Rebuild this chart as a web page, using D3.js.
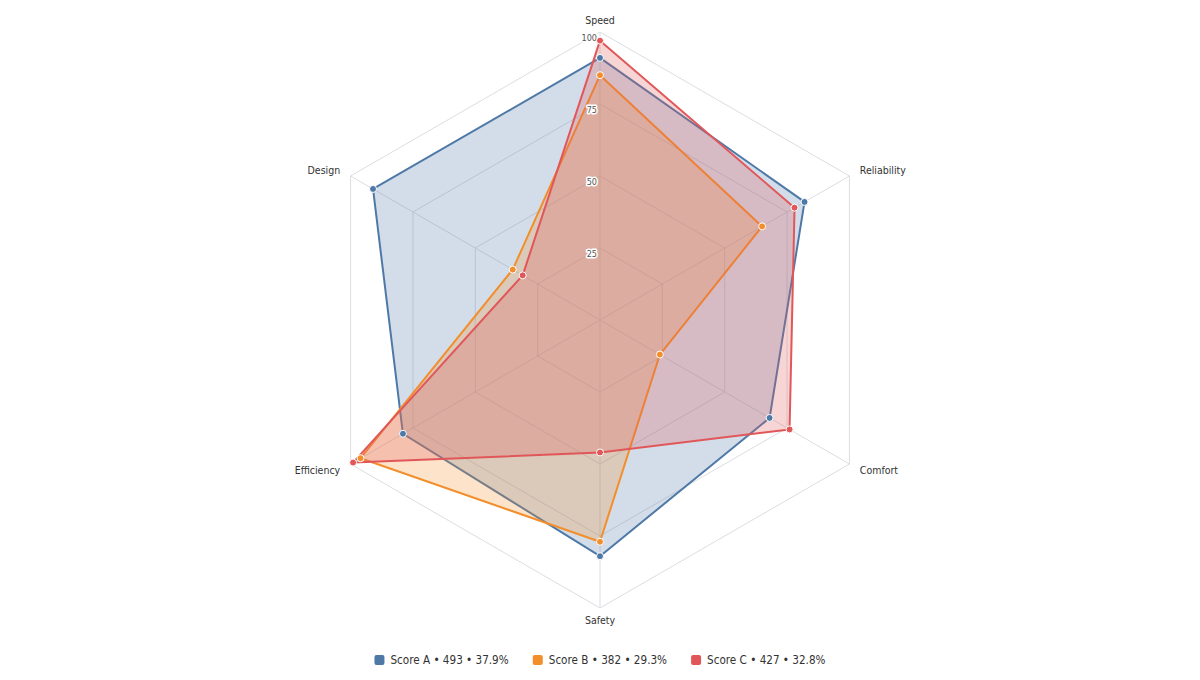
<!DOCTYPE html>
<html>
<head>
<meta charset="utf-8">
<script src="https://cdn.jsdelivr.net/npm/d3@7/dist/d3.min.js"></script>
<style>
  html, body { margin: 0; padding: 0; background: #fff; }
  svg { display: block; font-family: Tahoma, "DejaVu Sans Condensed", "Liberation Sans", sans-serif; }
</style>
</head>
<body>
<svg id="chart" width="1200" height="680"></svg>
<script>
const axes = ["Speed", "Reliability", "Comfort", "Safety", "Efficiency", "Design"];
const seriesNames = ["Score A", "Score B", "Score C"];
const scoreA = [91, 82, 68, 82, 79, 91];
const scoreB = [85, 65, 24, 77, 96, 35];
const scoreC = [97, 78, 76, 46, 99, 31];
const tickValues = [25, 50, 75, 100];
const colors = ["#4e79a7", "#f28e2b", "#e15759"];

const series = [scoreA, scoreB, scoreC].map((v, i) => ({ name: seriesNames[i], values: v, color: colors[i] }));
const grand = d3.sum(series, s => d3.sum(s.values));

const svg = d3.select("#chart");
const cx = 600, cy = 320, R = 288;
const r = d3.scaleLinear().domain([0, 100]).range([0, R]);
const angle = d3.scalePoint().domain(axes).range([0, 2 * Math.PI * (axes.length - 1) / axes.length]);
const pt = (a, v) => [cx + r(v) * Math.sin(angle(a)), cy - r(v) * Math.cos(angle(a))];

const g = svg.append("g");

// grid rings
g.selectAll("path.ring").data(tickValues).join("path")
  .attr("class", "ring")
  .attr("d", t => d3.line()(axes.map(a => pt(a, t))) + "Z")
  .attr("fill", "none").attr("stroke", "#dcdde2").attr("stroke-width", 1);

// spokes
g.selectAll("line.spoke").data(axes).join("line")
  .attr("class", "spoke")
  .attr("x1", cx).attr("y1", cy)
  .attr("x2", a => pt(a, 100)[0]).attr("y2", a => pt(a, 100)[1])
  .attr("stroke", "#dcdde2").attr("stroke-width", 1);

// axis labels
g.selectAll("text.axis").data(axes).join("text")
  .attr("class", "axis")
  .attr("x", a => cx + (R + 12) * Math.sin(angle(a)))
  .attr("y", a => cy - (R + 12) * Math.cos(angle(a)))
  .attr("text-anchor", a => {
    const s = Math.sin(angle(a));
    return Math.abs(s) < 0.01 ? "middle" : (s > 0 ? "start" : "end");
  })
  .attr("dominant-baseline", "central")
  .attr("font-size", 10.5).attr("fill", "#333")
  .text(a => a);

// series areas
const sg = g.selectAll("g.series").data(series).join("g").attr("class", "series");
sg.append("path")
  .attr("d", s => d3.line()(axes.map((a, i) => pt(a, s.values[i]))) + "Z")
  .attr("fill", s => s.color).attr("fill-opacity", 0.25)
  .attr("stroke", s => s.color).attr("stroke-width", 2).attr("stroke-linejoin", "round");

// tick labels (above areas, with halo)
g.selectAll("text.tick").data(tickValues).join("text")
  .attr("class", "tick")
  .attr("x", cx - 3)
  .attr("y", t => cy - r(t) + 6)
  .attr("text-anchor", "end")
  .attr("dominant-baseline", "central")
  .attr("font-size", 9).attr("fill", "#555")
  .attr("stroke", "#fff").attr("stroke-width", 3).attr("paint-order", "stroke").attr("stroke-linejoin", "round")
  .text(t => t);

// points
series.forEach(s => {
  g.append("g").selectAll("circle").data(s.values).join("circle")
    .attr("cx", (v, i) => pt(axes[i], v)[0])
    .attr("cy", (v, i) => pt(axes[i], v)[1])
    .attr("r", 3.5)
    .attr("fill", s.color).attr("stroke", "#fff").attr("stroke-width", 1);
});

// legend
const legend = svg.append("g");
const items = legend.selectAll("g.item").data(series).join("g").attr("class", "item");
items.append("rect").attr("width", 10).attr("height", 10).attr("rx", 2).attr("y", -5)
  .attr("fill", s => s.color);
items.append("text").attr("x", 16).attr("y", 0).attr("dominant-baseline", "central")
  .attr("font-size", 11.6).attr("fill", "#333")
  .text(s => {
    const tot = d3.sum(s.values);
    return `${s.name} • ${tot} • ${(tot / grand * 100).toFixed(1)}%`;
  });
let xoff = 0;
const widths = [];
items.each(function () { widths.push(this.getBBox().width); });
const gap = 24;
const total = d3.sum(widths) + gap * (widths.length - 1);
items.attr("transform", (d, i) => {
  const x = xoff; xoff += widths[i] + gap;
  return `translate(${x},0)`;
});
legend.attr("transform", `translate(${600 - total / 2},660)`);
</script>
</body>
</html>
